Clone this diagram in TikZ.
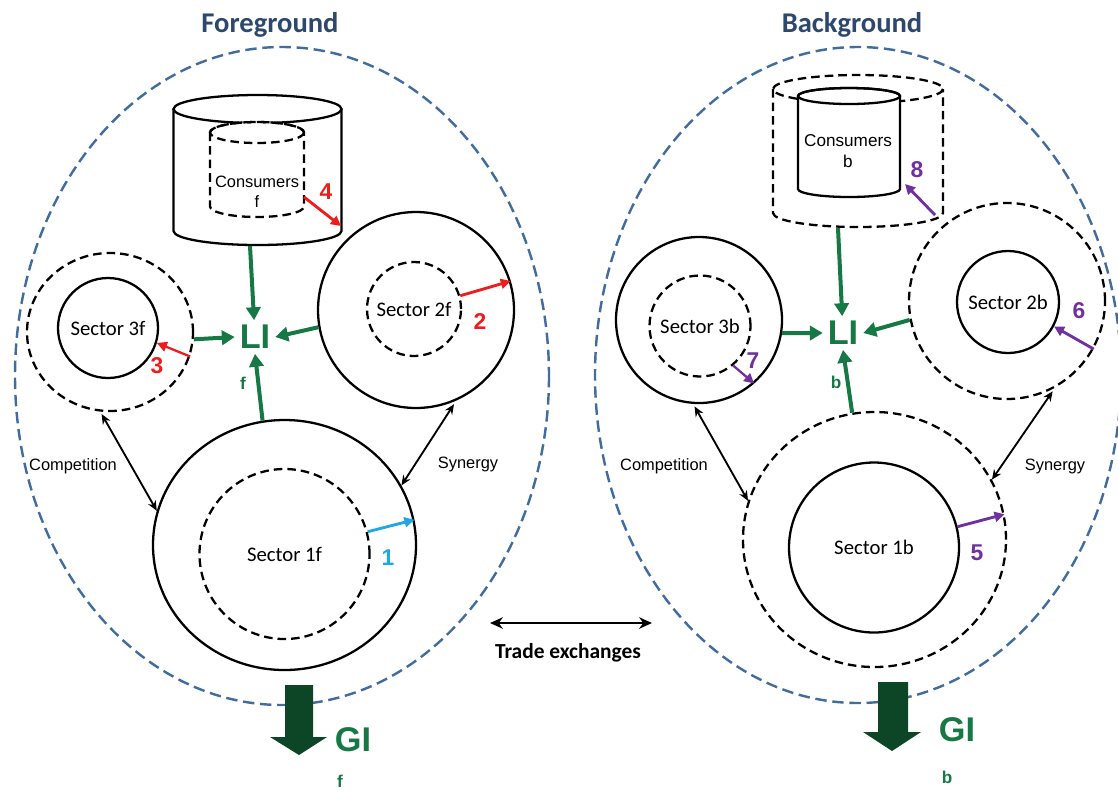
\documentclass[tikz,border=0pt]{standalone}
\usepackage{fontspec}
\setmainfont{Liberation Sans}
\newfontfamily\calibri{Carlito}
\usetikzlibrary{arrows.meta,shapes.geometric,positioning}
\definecolor{titleBlue}{RGB}{44,72,108}
\definecolor{ovalBlue}{RGB}{66,108,158}
\definecolor{liGreen}{RGB}{22,120,68}
\definecolor{giGreen}{RGB}{12,70,38}
\definecolor{numRed}{RGB}{238,28,28}
\definecolor{numCyan}{RGB}{32,168,228}
\definecolor{numPurple}{RGB}{112,48,160}
\tikzset{>={Stealth[length=7pt,width=6pt]}}
\tikzset{
  solidring/.style={circle,draw,line width=1.6pt,inner sep=0pt,minimum size=#1*0.7pt,font=\calibri\fontsize{14.5}{14.5}\selectfont},
  dashring/.style={solidring=#1,dash pattern=on 6pt off 3.5pt},
  solidoval/.style n args={2}{ellipse,draw,line width=1.6pt,inner sep=0pt,minimum width=#1*0.7pt,minimum height=#2*0.7pt},
  dashoval/.style n args={2}{solidoval={#1}{#2},dash pattern=on 6pt off 3.5pt},
  blueoval/.style={ovalBlue,line width=1.7pt,dash pattern=on 8pt off 4pt},
  flow/.style={liGreen,line width=2.8pt,-{Triangle[length=9pt,width=10pt]}},
  lossarrow/.style={line width=2pt,-{Triangle[length=7pt,width=7pt]}},
  relarrow/.style={line width=1.3pt,<->},
  numlabel/.style={font=\bfseries\fontsize{16}{16}\selectfont},
  bigname/.style={liGreen,font=\bfseries\fontsize{24}{24}\selectfont},
  subname/.style={liGreen,font=\bfseries\fontsize{12}{12}\selectfont},
  smalltext/.style={font=\fontsize{11.5}{11.5}\selectfont},
  title/.style={titleBlue,font=\calibri\bfseries\fontsize{20}{20}\selectfont}
}

\begin{document}
\begin{tikzpicture}[x=0.7pt,y=-0.7pt]
  \useasboundingbox (0,0) rectangle (1118,792);

  % the two systems
  \draw[blueoval] (282,376) ellipse [x radius=267,y radius=329];
  \draw[blueoval] (858,375) ellipse [x radius=263,y radius=328];
  \node[title] (fgtitle) at (270,25) {Foreground};
  \node[title] (bgtitle) at (852,25) {Background};

  % foreground consumers
  \draw[line width=1.6pt] (257.5,109) ellipse [x radius=84,y radius=14];
  \draw[line width=1.6pt] (173.5,109) -- (173.5,231) arc [start angle=180,end angle=0,x radius=84,y radius=14] -- (341.5,109);
  \draw[line width=1.6pt,fill=white,dash pattern=on 6pt off 3.5pt] (210,132.5) -- (210,206.5) arc [start angle=180,end angle=0,x radius=47,y radius=10.5] -- (304,132.5) arc [start angle=0,end angle=-180,x radius=47,y radius=10.5];
  \draw[line width=1.6pt,dash pattern=on 6pt off 3.5pt] (257,132.5) ellipse [x radius=47,y radius=10.5];
  \node[align=center,font=\fontsize{11.5}{14}\selectfont] (consf) at (257,192) {Consumers\\f};
  \coordinate (cylfbot) at (250,246);
  \coordinate (cylfin) at (304,197);
  \coordinate (cylfout) at (341,226);

  % foreground sectors
  \node[dashoval={166}{158}] (s3fo) at (110,332) {};
  \node[solidring=100] (s3fi) at (108,328) {Sector 3f};
  \node[solidring=196] (s2fo) at (416,310) {};
  \node[dashring=94] (s2fi) at (414,309) {Sector 2f};
  \node[solidoval={263}{250}] (s1fo) at (284.5,545) {};
  \node[dashring=170] (s1fi) at (284.5,554) {Sector 1f};

  \node[bigname] (lif) at (255,337) {LI};
  \node[subname] (lifsub) at (243,383) {f};

  \draw[flow] (cylfbot) -- (lif);
  \draw[flow] (s3fo.-5) -- (lif.west);
  \draw[flow] (s2fo.190) -- (lif.east);
  \draw[flow] (s1fo.100) -- (lif.south);

  \draw[lossarrow,numRed] (cylfin) -- (cylfout);
  \node[numlabel,numRed] (n4) at (326,192) {4};
  \draw[lossarrow,numRed,line width=1.6pt] (s3fo.-17) -- (s3fi.-17);
  \node[numlabel,numRed] (n3) at (157,366) {3};
  \draw[lossarrow,numRed] (s2fi.16) -- (s2fo.17);
  \node[numlabel,numRed] (n2) at (480,322) {2};
  \draw[lossarrow,numCyan] (s1fi.15) -- (s1fo.11);
  \node[numlabel,numCyan] (n1) at (388,558) {1};

  \draw[relarrow,shorten <=2pt] (s3fo.-97) -- (s1fo.165);
  \node[smalltext] (compf) at (73,466) {Competition};
  \draw[relarrow,shorten <=3pt] (s2fo.-66) -- (s1fo.27);
  \node[smalltext] (synf) at (468,464) {Synergy};

  \fill[giGreen] (285,685) -- (313,685) -- (313,737) -- (327,737) -- (299,755) -- (270,737) -- (285,737) -- cycle;
  \node[bigname] (gif) at (353,740) {GI};
  \node[subname] (gifsub) at (340,781) {f};

  % background consumers
  \draw[line width=1.6pt,dash pattern=on 6pt off 3.5pt] (858,89) ellipse [x radius=85,y radius=14];
  \draw[line width=1.6pt,dash pattern=on 6pt off 3.5pt] (773,89) -- (773,213) arc [start angle=180,end angle=0,x radius=85,y radius=14] -- (943,89);
  \draw[line width=1.6pt,fill=white] (798,96) -- (798,189) arc [start angle=180,end angle=0,x radius=51,y radius=8] -- (900,96) arc [start angle=0,end angle=-180,x radius=51,y radius=8];
  \draw[line width=1.6pt] (849,96) ellipse [x radius=51,y radius=8];
  \node[align=center,font=\fontsize{12}{14.5}\selectfont] (consb) at (848,151) {Consumers\\b};
  \coordinate (cylbbot) at (838,228);
  \coordinate (cylbin) at (905,184);
  \coordinate (cylbout) at (935,215);

  % background sectors
  \node[solidring=166] (s3bo) at (699,320) {};
  \node[dashring=101] (s3bi) at (700,326) {Sector 3b};
  \node[dashring=196] (s2bo) at (1007,301) {};
  \node[solidring=102] (s2bi) at (1008,302) {Sector 2b};
  \node[dashoval={263}{255}] (s1bo) at (874.5,539.5) {};
  \node[solidring=170] (s1bi) at (874,547.5) {Sector 1b};

  \node[bigname] (lib) at (843,333) {LI};
  \node[subname] (libsub) at (836,382) {b};

  \draw[flow] (cylbbot) -- (lib);
  \draw[flow] (s3bo.-9) -- (lib.west);
  \draw[flow] (s2bo.191) -- (lib.east);
  \draw[flow] (s1bo.100) -- (lib.south);

  \draw[lossarrow,numPurple] (cylbout) -- (cylbin);
  \node[numlabel,numPurple] (n8) at (917,170) {8};
  \draw[lossarrow,numPurple,line width=1.6pt] (s3bi.-50) -- (s3bo.-49);
  \node[numlabel,numPurple] (n7) at (753,361) {7};
  \draw[lossarrow,numPurple] (s2bo.-29) -- (s2bi.-28);
  \node[numlabel,numPurple] (n6) at (1079,311) {6};
  \draw[lossarrow,numPurple] (s1bi.14) -- (s1bo.11);
  \node[numlabel,numPurple] (n5) at (977,553) {5};

  \draw[relarrow,shorten <=2pt] (s3bo.-94) -- (s1bo.163);
  \node[smalltext] (compb) at (664,466) {Competition};
  \draw[relarrow,shorten <=3pt] (s2bo.-61) -- (s1bo.27);
  \node[smalltext] (synb) at (1055,466) {Synergy};

  \fill[giGreen] (878,682) -- (908,682) -- (908,732) -- (921,732) -- (892,751) -- (863,732) -- (878,732) -- cycle;
  \node[bigname] (gib) at (957,730) {GI};
  \node[subname] (gibsub) at (947,777) {b};

  % trade between the two
  \coordinate (tradeL) at (490,623);
  \coordinate (tradeR) at (652,623);
  \draw[line width=2pt,{Stealth[length=9pt,width=8pt]}-{Stealth[length=9pt,width=8pt]}] (tradeL) -- (tradeR);
  \node[font=\calibri\bfseries\fontsize{15}{15}\selectfont] (trade) at (568,653) {Trade exchanges};
\end{tikzpicture}
\end{document}
